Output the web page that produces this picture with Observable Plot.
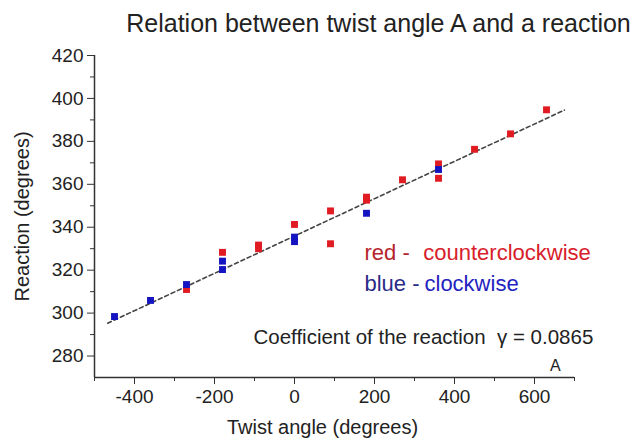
<!DOCTYPE html>
<html>
<head>
<meta charset="utf-8">
<script src="https://cdn.jsdelivr.net/npm/d3@7"></script>
<script src="https://cdn.jsdelivr.net/npm/@observablehq/plot@0.6"></script>
<style>
  html, body { margin: 0; padding: 0; background: #fff; }
  #chart { width: 641px; height: 439px; }
</style>
</head>
<body>
<div id="chart"></div>
<script>
// Red: counterclockwise measurements
const redAngle    = [-270, -180, -90, -90, 0, 90, 90, 180, 180, 270, 360, 360, 450, 540, 630];
const redReaction = [311.0, 328.3, 331.7, 330.0, 341.3, 347.6, 332.3, 352.6, 354.0, 362.1, 369.5, 362.8, 376.3, 383.5, 394.7];
// Blue: clockwise measurements
const blueAngle    = [-450, -360, -270, -180, -180, 0, 0, 180, 360];
const blueReaction = [298.4, 305.9, 313.3, 324.2, 320.3, 335.4, 333.3, 346.5, 366.9];
// Fitted dashed line endpoints
const fitAngle    = [-467, 675];
const fitReaction = [295.3, 394.6];
// Axis ticks
const xTicks = [-400, -200, 0, 200, 400, 600];
const xMinor = [-500, -300, -100, 100, 300, 500, 700];
const yTicks = [280, 300, 320, 340, 360, 380, 400, 420];
const yMinor = [290, 310, 330, 350, 370, 390, 410];
// Texts
const titleText = "Relation between twist angle A and a reaction";
const xLabel = "Twist angle (degrees)";
const yLabel = "Reaction (degrees)";
const legendRed = ["red -", "counterclockwise"];
const legendBlue = ["blue -", "clockwise"];
const coefText = "Coefficient of the reaction  \u03b3 = 0.0865";
const coefSub = "A";

const red = redAngle.map((a, i) => ({a, r: redReaction[i]}));
const blue = blueAngle.map((a, i) => ({a, r: blueReaction[i]}));
const fit = fitAngle.map((a, i) => ({a, r: fitReaction[i]}));

const font = "'Liberation Sans', Arial, sans-serif";
const plain = d => String(d);

const chart = Plot.plot({
  width: 641,
  height: 439,
  marginLeft: 94,
  marginRight: 67,
  marginTop: 55,
  marginBottom: 62,
  style: {fontFamily: font, color: "#222", background: "#fff"},
  x: {domain: [-500, 700]},
  y: {domain: [270, 420]},
  marks: [
    Plot.ruleY([270], {stroke: "#333", strokeWidth: 1.5}),
    Plot.ruleX([-500], {stroke: "#333", strokeWidth: 1.5}),
    Plot.axisX({ticks: xTicks, tickSize: 7, tickPadding: 5, fontSize: 19, tickFormat: plain, label: null, stroke: "#333"}),
    Plot.axisX({ticks: xMinor, tickSize: 4, tickFormat: () => "", label: null, stroke: "#333"}),
    Plot.axisY({ticks: yTicks, tickSize: 7, tickPadding: 4, fontSize: 19, tickFormat: plain, label: null, stroke: "#333"}),
    Plot.axisY({ticks: yMinor, tickSize: 4, tickFormat: () => "", label: null, stroke: "#333"}),
    Plot.line(fit, {x: "a", y: "r", stroke: "#444", strokeWidth: 1.6, strokeDasharray: "4,3"}),
    Plot.dot(red, {x: "a", y: "r", symbol: "square", r: 3.9, fill: "#e01b22", stroke: "none"}),
    Plot.dot(blue, {x: "a", y: "r", symbol: "square", r: 3.9, fill: "#1414c0", stroke: "none"}),
    Plot.text([titleText], {frameAnchor: "top", lineAnchor: "middle", textAnchor: "middle", dx: 44, dy: -32, fontSize: 25, fill: "#222"}),
    Plot.text([xLabel], {frameAnchor: "bottom", lineAnchor: "middle", textAnchor: "middle", dx: -12, dy: 50, fontSize: 20, fill: "#222"}),
    Plot.text([yLabel], {frameAnchor: "left", lineAnchor: "middle", textAnchor: "middle", dx: -72, rotate: -90, fontSize: 20, fill: "#222"}),
    Plot.text([legendRed[0]], {x: 175, y: 328, textAnchor: "start", fontSize: 22, fill: "#b5242a"}),
    Plot.text([legendRed[1]], {x: 322, y: 328, textAnchor: "start", fontSize: 22, fill: "#d8202a"}),
    Plot.text([legendBlue[0]], {x: 175, y: 313.6, textAnchor: "start", fontSize: 22, fill: "#2a2a88"}),
    Plot.text([legendBlue[1]], {x: 325, y: 313.6, textAnchor: "start", fontSize: 22, fill: "#2323c0"}),
    Plot.text([coefText], {x: 747, y: 288.8, textAnchor: "end", fontSize: 20.5, fill: "#222"}),
    Plot.text([coefSub], {x: 652, y: 275.6, fontSize: 16, fill: "#222"})
  ]
});
document.getElementById("chart").appendChild(chart);
</script>
</body>
</html>
